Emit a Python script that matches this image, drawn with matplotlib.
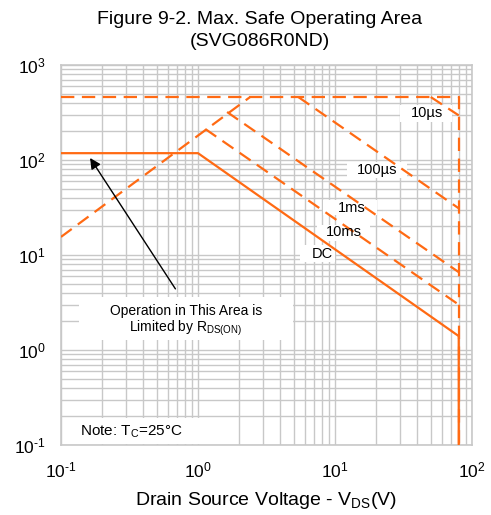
import numpy as np
import matplotlib
matplotlib.use('Agg')
import matplotlib.pyplot as plt
from matplotlib.patches import Rectangle
from matplotlib.ticker import FuncFormatter, LogLocator

plt.rcParams['font.family'] = ['Liberation Sans', 'DejaVu Sans']
plt.rcParams['mathtext.fontset'] = 'custom'
plt.rcParams['mathtext.rm'] = 'Liberation Sans'
plt.rcParams['mathtext.it'] = 'Liberation Sans'
plt.rcParams['mathtext.bf'] = 'Liberation Sans'
plt.rcParams['axes.unicode_minus'] = False

# SOA boundaries (V, A)
dc_v = [0.1, 1.0, 80, 80]
dc_i = [118, 118, 1.4, 0.1]
rds_v = [0.1, 2.4]
rds_i = [15.5, 460]
top_v = [0.1, 80, 80]
top_i = [460, 460, 0.1]
us10_v = [50, 80]
us10_i = [460, 295]
us100_v = [5.4, 80]
us100_i = [460, 31]
ms1_v = [1.63, 80]
ms1_i = [320, 6.6]
ms10_v = [1.13, 80]
ms10_i = [212, 3.0]

orange = '#FF6A13'
grid_c = '#c8c8c8'

def pow10(v, pos):
    e = int(round(np.log10(v)))
    return r'$10^{\text{%d}}$' % e

fig = plt.figure(figsize=(4.91, 5.15), dpi=100)
ax = fig.add_axes([61/491, 1-445/515, 411/491, 380/515])
ax.set_xscale('log')
ax.set_yscale('log')
ax.set_xlim(0.1, 100)
ax.set_ylim(0.1, 1000)
for a in (ax.xaxis, ax.yaxis):
    a.set_major_locator(LogLocator(base=10))
    a.set_major_formatter(FuncFormatter(pow10))

ax.grid(True, which='both', color=grid_c, lw=1.0, zorder=0)
ax.set_axisbelow(True)
for s in ax.spines.values():
    s.set_color(grid_c)
    s.set_linewidth(1.2)
ax.tick_params(which='both', length=0, labelsize=12.5, pad=11)

dash = (6, 3.4)
ax.plot(dc_v, dc_i, color=orange, lw=1.6, zorder=3)
for v, i in [(rds_v, rds_i), (top_v, top_i), (us10_v, us10_i),
             (us100_v, us100_i), (ms1_v, ms1_i), (ms10_v, ms10_i)]:
    ax.plot(v, i, color=orange, lw=1.6, dashes=dash, zorder=3)

# white label boxes (axes fraction), drawn over grid, under lines
def wbox(x0, y0, x1, y1):
    ax.add_patch(Rectangle(((x0-61)/411, (445-y1)/380), (x1-x0)/411, (y1-y0)/380,
                           transform=ax.transAxes, facecolor='white',
                           edgecolor='none', zorder=1))

def lab(x, y, s, size=10.5, ha='center'):
    ax.text((x-61)/411, (445-y)/380, s, transform=ax.transAxes, ha=ha,
            va='center', fontsize=size, zorder=4)

wbox(400, 105, 452, 122)
lab(427, 113, '10µs')
wbox(347, 162, 407, 178)
lab(377, 170, '100µs')
wbox(323, 200, 377, 215)
lab(352, 208, '1ms')
wbox(317, 225, 370, 241)
lab(344, 232, '10ms')
wbox(300, 245, 335, 262)
lab(322, 254, 'DC')
wbox(79, 297, 293, 340)
lab(186, 311, 'Operation in This Area is', size=10)
lab(186, 328, r'Limited by R$_{\mathrm{DS(ON)}}$', size=10)
wbox(73, 418, 207, 444)
lab(80, 432, r'Note: T$_{\mathrm{C}}$=25°C', size=11, ha='left')

ax.annotate('', xy=(0.163, 105), xytext=(0.684, 4.4),
            arrowprops=dict(arrowstyle='-|>', color='black', lw=1.0,
                            mutation_scale=16, shrinkA=0, shrinkB=0),
            zorder=5)

fig.text(260/491, 1-20/515, 'Figure 9-2. Max. Safe Operating Area', ha='center',
         va='center', fontsize=14)
fig.text(260/491, 1-42/515, '(SVG086R0ND)', ha='center', va='center', fontsize=14)
ax.set_xlabel(r'Drain Source Voltage - V$_{\mathrm{DS}}$(V)', fontsize=14, labelpad=7)

fig.savefig('out.png', dpi=100)
